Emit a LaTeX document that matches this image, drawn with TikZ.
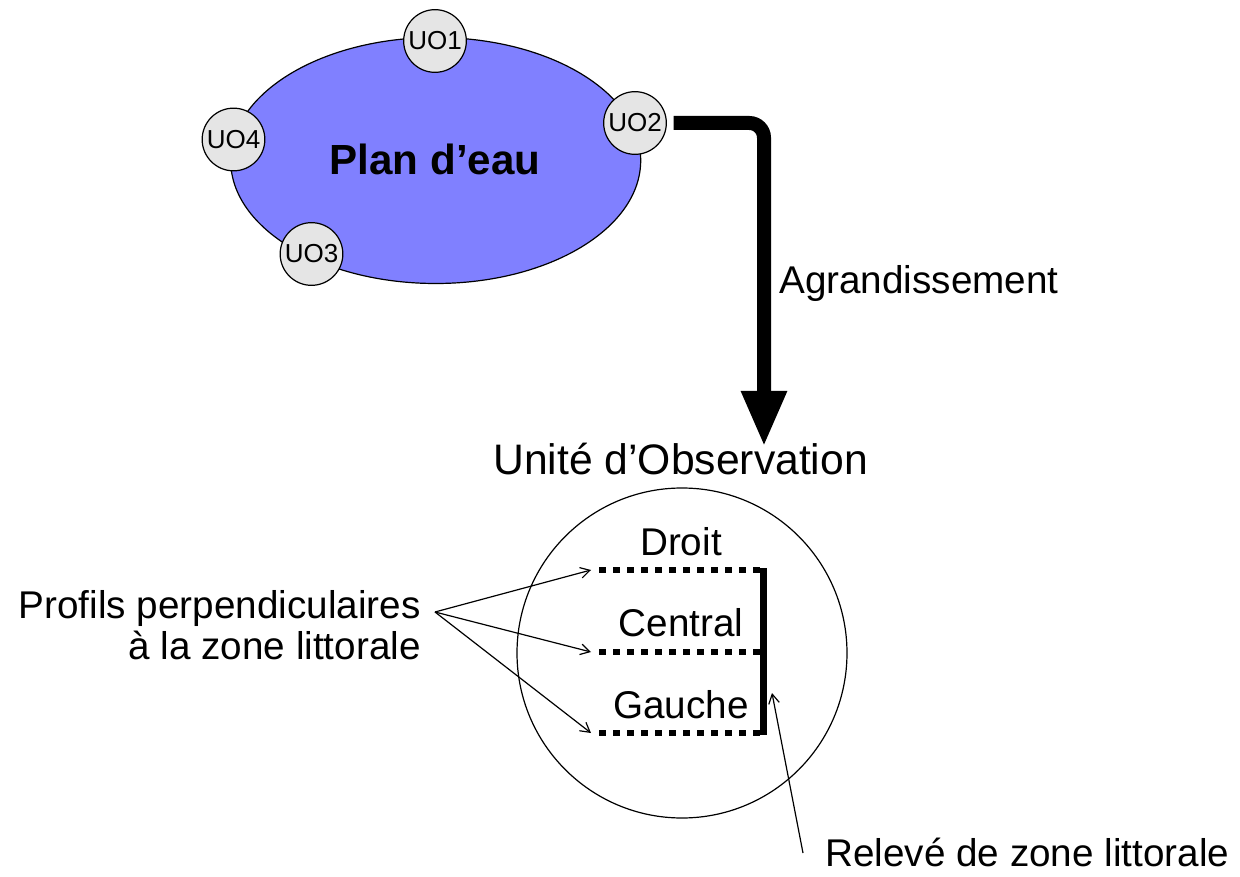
\documentclass[tikz,border=0pt]{standalone}
\usepackage{fontspec}
\setmainfont{Liberation Sans}
\usetikzlibrary{arrows.meta,shapes.geometric}
\definecolor{lake}{RGB}{128,128,255}
\definecolor{uogray}{RGB}{229,229,229}
\begin{document}
\begin{tikzpicture}[x=0.75pt,y=-0.75pt,
  lbl/.style={font=\fontsize{29}{35}\selectfont, inner sep=0pt},
  uo/.style={circle, draw=black, line width=0.9pt, fill=uogray, minimum size=47pt, inner sep=0pt, font=\fontsize{19.5}{22}\selectfont},
  thinarrow/.style={line width=0.9pt, -{Straight Barb[length=7pt,width=8pt]}},
  profile/.style={line width=3.8pt, dash pattern=on 5.25pt off 5.25pt},
  bigarrow/.style={line width=10.5pt, rounded corners=11pt, -{Triangle[length=42pt,width=31.5pt]}}]
\path[use as bounding box] (0,0) rectangle (1240,877);
% lake
\node[ellipse, draw=black, fill=lake, line width=0.9pt, minimum width=307.5pt, minimum height=184.5pt, inner sep=0pt] (lake) at (435.7,160.5) {};
\node[font=\bfseries\fontsize{31.6}{38}\selectfont, inner sep=0pt, anchor=base] (plan) at (435,175) {Plan d’eau};
\node[uo] (uo1) at (435,41) {UO1};
\node[uo] (uo2) at (635,123) {UO2};
\node[uo] (uo4) at (233.5,139.5) {UO4};
\node[uo] (uo3) at (311.5,254) {UO3};
% enlargement arrow
\coordinate (tipA) at (764,447);
\draw[bigarrow] ([xshift=5pt]uo2.east) -| (tipA);
\node[lbl, anchor=base west] (agr) at (779,294) {Agrandissement};
% observation unit
\node[font=\fontsize{32}{38}\selectfont, inner sep=0pt, anchor=base west] (title) at (493,474.3) {Unité d’Observation};
\node[circle, draw=black, line width=0.9pt, minimum size=247.5pt, inner sep=0pt] (uoc) at (682,653) {};
\node[lbl, anchor=base] (droit) at (681,555) {Droit};
\node[lbl, anchor=base] (central) at (681,636.7) {Central};
\node[lbl, anchor=base] (gauche) at (681,718.3) {Gauche};
\coordinate (d1) at (599,570);
\coordinate (e1) at (763,570);
\coordinate (d2) at (599,652);
\coordinate (e2) at (763,652);
\coordinate (d3) at (599,733);
\coordinate (e3) at (763,733);
\draw[profile] (d1) -- (e1);
\draw[profile] (d2) -- (e2);
\draw[profile] (d3) -- (e3);
\draw[line width=5.25pt] ([yshift=1.5pt]e1) -- ([yshift=-1.5pt]e3);
% profiles label
\node[lbl, anchor=base east] (prof1) at (421,618.3) {Profils perpendiculaires};
\node[lbl, anchor=base east] (prof2) at (421,659) {à la zone littorale};
\coordinate (pf) at (435,612);
\coordinate (a1) at (591,570);
\coordinate (a2) at (591,652);
\coordinate (a3) at (591,733);
\draw[thinarrow] (pf) -- (a1);
\draw[thinarrow] (pf) -- (a2);
\draw[thinarrow] (pf) -- (a3);
% releve label
\node[lbl, anchor=base west] (releve) at (825,866.7) {Relevé de zone littorale};
\coordinate (rv) at (803,853);
\coordinate (rt) at (772,693);
\draw[thinarrow] (rv) -- (rt);
\end{tikzpicture}
\end{document}
